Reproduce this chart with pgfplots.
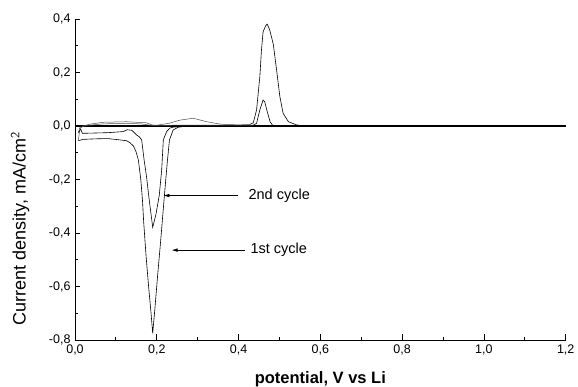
\documentclass[border=0pt]{standalone}
\usepackage{pgfplots}
\pgfplotsset{compat=1.18}
\usepackage{fontspec}
\setmainfont{Liberation Sans}
\usetikzlibrary{arrows.meta}
\begin{document}
\begin{tikzpicture}
\useasboundingbox (-75pt,-47pt) rectangle (503pt,340pt);
\begin{axis}[
  scale only axis,
  width=490.7pt, height=321pt,
  xmin=0, xmax=1.2, ymin=-0.8, ymax=0.4,
  axis x line=bottom, axis y line=left,
  axis line style={-, line width=0.9pt},
  tick align=inside,
  major tick length=5.5pt, minor tick length=3.3pt,
  every tick/.style={black, line width=0.8pt},
  xtick={0,0.2,0.4,0.6,0.8,1.0,1.2},
  ytick={-0.8,-0.6,-0.4,-0.2,0,0.2,0.4},
  minor tick num=1,
  /pgf/number format/.cd, use comma, fixed, fixed zerofill, precision=1, assume math mode=true,
  /pgfplots/.cd,
  tick label style={font=\fontsize{12.5}{14}\selectfont},
  xticklabel style={yshift=-1pt},
  yticklabel style={xshift=-1pt},
  xlabel={\textbf{potential, V vs Li}},
  ylabel={Current density, mA/cm$^{\mathsf{2}}$},
  every axis x label/.style={at={(axis description cs:0.5,-0.1215)}, anchor=center, font=\fontsize{16.5}{18}\selectfont},
  every axis y label/.style={at={(axis description cs:-0.112,0.346)}, anchor=center, rotate=90, font=\fontsize{18}{20}\selectfont},
  clip=false,
]
% baseline (overlapping traces)
\addplot[black, line width=1.6pt] coordinates {(0.0,0) (1.2,0)};
% 1st cycle
\addplot[black, line width=0.6pt] coordinates {
(1.2,0) (0.6,0) (0.30,0) (0.265,-0.002) (0.253,-0.004) (0.240,-0.015) (0.231,-0.052)
(0.226,-0.13) (0.222,-0.2) (0.217,-0.29) (0.210,-0.42) (0.202,-0.56) (0.195,-0.69)
(0.190,-0.775) (0.186,-0.70) (0.180,-0.60) (0.174,-0.49) (0.168,-0.36) (0.165,-0.277)
(0.161,-0.202) (0.155,-0.127) (0.149,-0.095) (0.143,-0.075) (0.134,-0.062) (0.126,-0.055)
(0.11,-0.052) (0.08,-0.047) (0.05,-0.048) (0.02,-0.050) (0.008,-0.055)
};
\addplot[black!70, line width=0.5pt] coordinates {
(0.008,-0.055) (0.012,-0.01) (0.02,0.0) (0.037,0.007) (0.07,0.014) (0.126,0.016) (0.175,0.012)
(0.19,0.003) (0.2,0.003) (0.23,0.01) (0.257,0.022) (0.289,0.029) (0.322,0.016) (0.355,0.007)
(0.40,0.004) (0.428,0.006)
};
\addplot[black, line width=0.6pt] coordinates {
(0.428,0.006) (0.436,0.012) (0.444,0.06) (0.452,0.184) (0.456,0.284) (0.460,0.352)
(0.466,0.374) (0.470,0.381) (0.476,0.36) (0.481,0.33) (0.485,0.305) (0.493,0.209)
(0.501,0.110) (0.509,0.047) (0.522,0.016) (0.542,0.004) (0.56,0) (1.2,0)
};
% 2nd cycle
\addplot[black, line width=0.6pt] coordinates {
(1.2,0) (0.6,0) (0.30,0) (0.24,-0.004) (0.232,-0.008) (0.224,-0.021) (0.216,-0.052)
(0.212,-0.164) (0.206,-0.26) (0.198,-0.33) (0.190,-0.379) (0.186,-0.33) (0.181,-0.27)
(0.175,-0.19) (0.169,-0.127) (0.163,-0.052) (0.157,-0.04) (0.151,-0.034) (0.139,-0.016)
(0.128,-0.014) (0.118,-0.021) (0.08,-0.025) (0.03,-0.027) (0.018,-0.027) (0.014,-0.012)
(0.008,-0.025)
};
\addplot[black!70, line width=0.5pt] coordinates {
(0.008,-0.025) (0.012,-0.005) (0.03,0.002) (0.07,0.008) (0.12,0.01) (0.16,0.008)
(0.19,0.002) (0.25,0.003) (0.35,0.003) (0.436,0.003)
};
\addplot[black, line width=0.6pt] coordinates {
(0.436,0.003) (0.444,0.01) (0.452,0.06) (0.460,0.097) (0.464,0.09) (0.469,0.06)
(0.477,0.016) (0.483,0.003) (0.5,0) (1.2,0)
};
% annotations
\draw[line width=0.6pt, -{Latex[length=6pt,width=3.5pt]}] (axis cs:0.399,-0.26) -- (axis cs:0.216,-0.26);
\node[anchor=west, inner sep=0pt, font=\fontsize{14.5}{16}\selectfont] at (axis cs:0.424,-0.26) {2nd cycle};
\draw[line width=0.6pt, -{Latex[length=6pt,width=3.5pt]}] (axis cs:0.416,-0.464) -- (axis cs:0.236,-0.464);
\node[anchor=west, inner sep=0pt, font=\fontsize{14.5}{16}\selectfont] at (axis cs:0.429,-0.464) {1st cycle};
\end{axis}
\end{tikzpicture}
\end{document}
